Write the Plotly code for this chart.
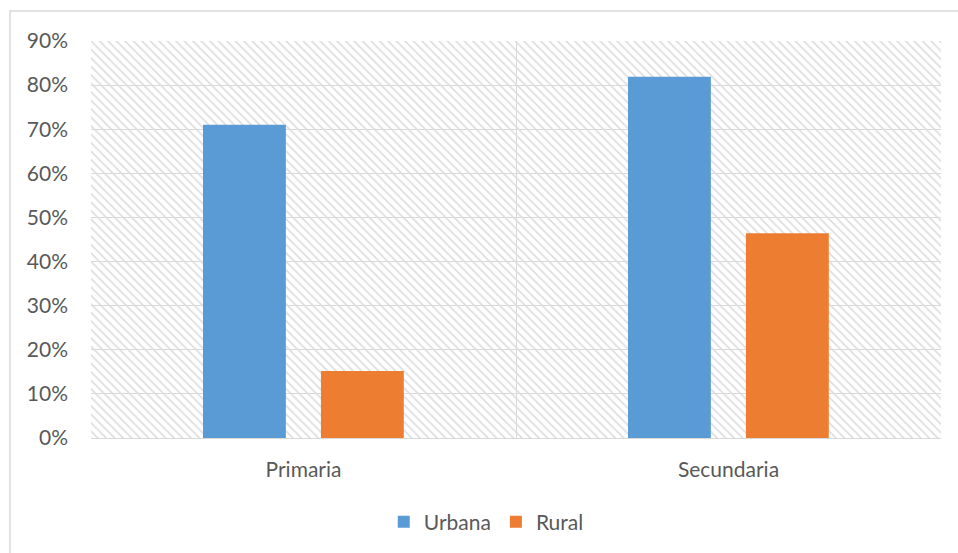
import plotly.graph_objects as go

categories = ["Primaria", "Secundaria"]
urbana = [0.71, 0.819]
rural = [0.152, 0.464]
y_max = 0.9

FONT = "Lato"
TXT = "#595959"
GRID = "#d9d9d9"

fig = go.Figure()

# hatched plot-area background (one full-width bar per category)
fig.add_trace(go.Bar(
    x=categories, y=[y_max] * len(categories), width=1, offset=-0.5,
    marker=dict(color="rgba(0,0,0,0)", line=dict(width=0),
                pattern=dict(shape="\\", fgcolor="#dedede", size=6, solidity=0.3,
                             fillmode="replace")),
    showlegend=False, hoverinfo="skip",
))

fig.add_trace(go.Bar(
    x=categories, y=urbana, name="Urbana", width=0.195, offset=-0.2365,
    marker=dict(color="#5B9BD5", line=dict(width=0)),
))
fig.add_trace(go.Bar(
    x=categories, y=rural, name="Rural", width=0.195, offset=0.041,
    marker=dict(color="#ED7D31", line=dict(width=0)),
))

fig.update_layout(
    width=958, height=553,
    margin=dict(l=91, r=17, t=41, b=114),
    barmode="overlay",
    paper_bgcolor="white", plot_bgcolor="white",
    font=dict(family=FONT, size=21, color=TXT),
    legend=dict(orientation="h", x=0.465, xanchor="center", y=-0.2085, yanchor="middle",
                font=dict(family=FONT, size=21, color=TXT), itemwidth=30,
                traceorder="normal"),
    xaxis=dict(type="category", range=[-0.5, 1.5], tickson="boundaries",
               showgrid=True, gridcolor=GRID, gridwidth=1, ticks="", ticklen=0,
               showline=False, ticklabelstandoff=17),
    yaxis=dict(range=[0, y_max], dtick=0.1, tickformat=".0%", showgrid=True,
               gridcolor=GRID, gridwidth=1, zeroline=True, zerolinecolor=GRID,
               zerolinewidth=1, ticks="", showline=False, ticklabelstandoff=22),
    shapes=[dict(type="rect", xref="paper", yref="paper",
                 x0=(10 - 91) / 850, x1=1.2, y0=-0.5, y1=(439 - 11) / 398,
                 line=dict(color=GRID, width=1.5), fillcolor="rgba(0,0,0,0)",
                 layer="below")],
    hovermode=False,
)

fig.write_html("out.html")
